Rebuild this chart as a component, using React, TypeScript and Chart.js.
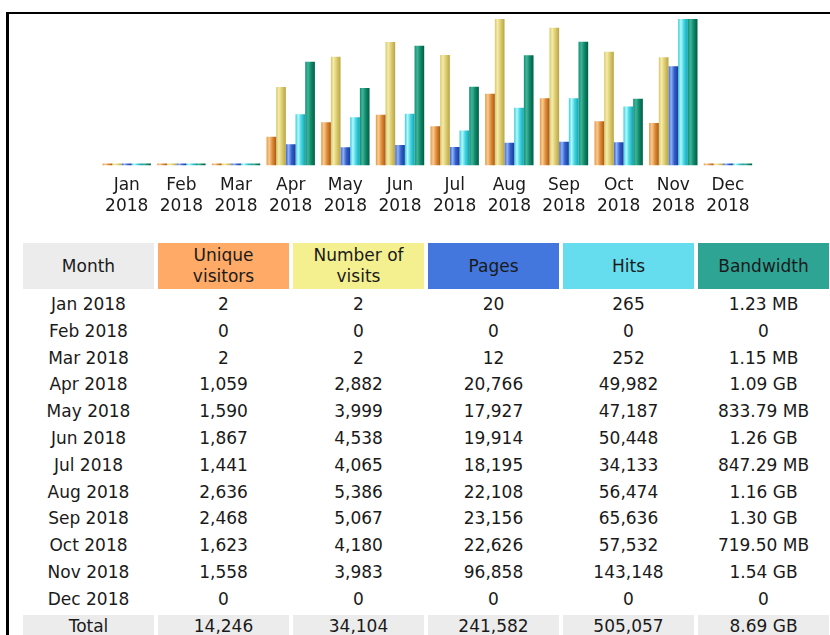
import React, { useEffect, useRef } from "react";
import { Chart, registerables } from "chart.js";
Chart.register(...registerables);

const monthShort = ["Jan", "Feb", "Mar", "Apr", "May", "Jun", "Jul", "Aug", "Sep", "Oct", "Nov", "Dec"];
const yearLabel = "2018";
const uniqueVisitors = [2, 0, 2, 1059, 1590, 1867, 1441, 2636, 2468, 1623, 1558, 0];
const visits = [2, 0, 2, 2882, 3999, 4538, 4065, 5386, 5067, 4180, 3983, 0];
const pages = [20, 0, 12, 20766, 17927, 19914, 18195, 22108, 23156, 22626, 96858, 0];
const hits = [265, 0, 252, 49982, 47187, 50448, 34133, 56474, 65636, 57532, 143148, 0];
// bandwidth in MB
const bandwidthMB = [1.23, 0, 1.15, 1116.16, 833.79, 1290.24, 847.29, 1187.84, 1331.2, 719.5, 1576.96, 0];
const bandwidthText = ["1.23 MB", "0", "1.15 MB", "1.09 GB", "833.79 MB", "1.26 GB", "847.29 MB", "1.16 GB", "1.30 GB", "719.50 MB", "1.54 GB", "0"];
const totals = ["14,246", "34,104", "241,582", "505,057", "8.69 GB"];
const headers = ["Month", "Unique visitors", "Number of visits", "Pages", "Hits", "Bandwidth"];
const headerColors = ["#ececec", "#ffaa66", "#f4f090", "#4477dd", "#66ddee", "#2ea495"];

const CAT_PCT = 0.885;
const FONT = "'DejaVu Sans', Verdana, sans-serif";

// gradient stops per series: [mid, light, mid2, dark]
const shades: string[][] = [
  ["#e39a48", "#f7cb92", "#e08c38", "#a85a14"],
  ["#d8c86c", "#f4eca8", "#dccc70", "#b8a444"],
  ["#3a68d4", "#90b2f6", "#3460cc", "#1a3a9c"],
  ["#38ccd8", "#b4f8fc", "#40d4e0", "#14a4b4"],
  ["#12906e", "#40b49a", "#108a6a", "#005c44"],
];

function gradientFor(seriesIdx: number) {
  return (ctx: any) => {
    const chart = ctx.chart;
    const xs = chart.scales && chart.scales.x;
    const s = shades[seriesIdx];
    if (!xs || !chart.chartArea || ctx.dataIndex === undefined) return s[0];
    const n = monthShort.length;
    const cat = xs.width / n;
    const group = cat * CAT_PCT;
    const barW = group / 5;
    const center = xs.getPixelForValue(ctx.dataIndex);
    const left = center - group / 2 + ctx.datasetIndex * barW;
    const g = chart.ctx.createLinearGradient(left, 0, left + barW, 0);
    g.addColorStop(0, s[0]);
    g.addColorStop(0.28, s[1]);
    g.addColorStop(0.6, s[2]);
    g.addColorStop(1, s[3]);
    return g;
  };
}

function fmt(v: number) {
  return v.toLocaleString("en-US");
}

export default function App() {
  const ref = useRef<HTMLCanvasElement | null>(null);
  useEffect(() => {
    if (!ref.current) return;
    const mk = (data: number[], axis: string, i: number) => ({
      data,
      yAxisID: axis,
      backgroundColor: gradientFor(i),
      borderWidth: 0,
      categoryPercentage: CAT_PCT,
      barPercentage: 1,
      minBarLength: 2,
    });
    const chart = new Chart(ref.current, {
      type: "bar",
      data: {
        labels: monthShort.map((m) => [m, yearLabel]),
        datasets: [
          mk(uniqueVisitors, "yv", 0),
          mk(visits, "yv", 1),
          mk(pages, "yh", 2),
          mk(hits, "yh", 3),
          mk(bandwidthMB, "yk", 4),
        ] as any,
      },
      options: {
        animation: false,
        responsive: false,
        devicePixelRatio: 1,
        layout: { padding: { left: 9.4, right: 14.7, top: 9, bottom: 8 } },
        plugins: { legend: { display: false }, tooltip: { enabled: false } },
        scales: {
          x: {
            offset: true,
            grid: { display: false, drawTicks: false },
            border: { display: false },
            ticks: {
              padding: 9,
              autoSkip: false,
              maxRotation: 0,
              color: "#1a1a1a",
              font: { family: FONT, size: 17, lineHeight: 1.25 },
            },
          },
          yv: { display: false, min: 0, max: Math.max(...visits) },
          yh: { display: false, min: 0, max: Math.max(...hits) },
          yk: { display: false, min: 0, max: Math.max(...bandwidthMB) },
        },
      } as any,
    });
    return () => chart.destroy();
  }, []);

  const cellBase: React.CSSProperties = {
    width: 131,
    minWidth: 131,
    padding: 0,
    textAlign: "center",
    verticalAlign: "middle",
    boxSizing: "border-box",
  };

  const rows = monthShort.map((m, i) => [
    `${m} ${yearLabel}`,
    fmt(uniqueVisitors[i]),
    fmt(visits[i]),
    fmt(pages[i]),
    fmt(hits[i]),
    bandwidthText[i],
  ]);

  const rowH = 22.8;

  return (
    <div style={{ fontFamily: FONT, color: "#1a1a1a" }}>
      <div
        style={{
          position: "absolute",
          left: 6,
          top: 12,
          width: 900,
          height: 700,
          borderTop: "2px solid #000",
          borderLeft: "3px solid #000",
        }}
      />
      <canvas
        ref={ref}
        width={680}
        height={224}
        style={{ position: "absolute", left: 90, top: 10, width: 680, height: 224, display: "block" }}
      />
      <table
        style={{
          position: "absolute",
          left: 19,
          top: 239,
          width: 814,
          borderCollapse: "separate",
          borderSpacing: 4,
          fontSize: 17,
          fontFamily: FONT,
          color: "#1a1a1a",
          tableLayout: "fixed",
        }}
      >
        <colgroup>
          {headers.map((h) => (
            <col key={h} style={{ width: 131 }} />
          ))}
        </colgroup>
        <tbody>
          <tr>
            {headers.map((h, i) => (
              <td
                key={h}
                style={{ ...cellBase, height: 46, lineHeight: "21px", background: headerColors[i] }}
              >
                {h === "Unique visitors" ? (
                  <>
                    Unique
                    <br />
                    visitors
                  </>
                ) : h === "Number of visits" ? (
                  <>
                    Number of
                    <br />
                    visits
                  </>
                ) : (
                  h
                )}
              </td>
            ))}
          </tr>
          {rows.map((r) => (
            <tr key={r[0]}>
              {r.map((c, j) => (
                <td key={j} style={{ ...cellBase, height: rowH, lineHeight: `${rowH}px` }}>
                  {c}
                </td>
              ))}
            </tr>
          ))}
          <tr>
            {["Total", ...totals].map((c, j) => (
              <td key={j} style={{ ...cellBase, height: rowH, lineHeight: `${rowH}px`, background: "#ececec" }}>
                {c}
              </td>
            ))}
          </tr>
        </tbody>
      </table>
    </div>
  );
}
